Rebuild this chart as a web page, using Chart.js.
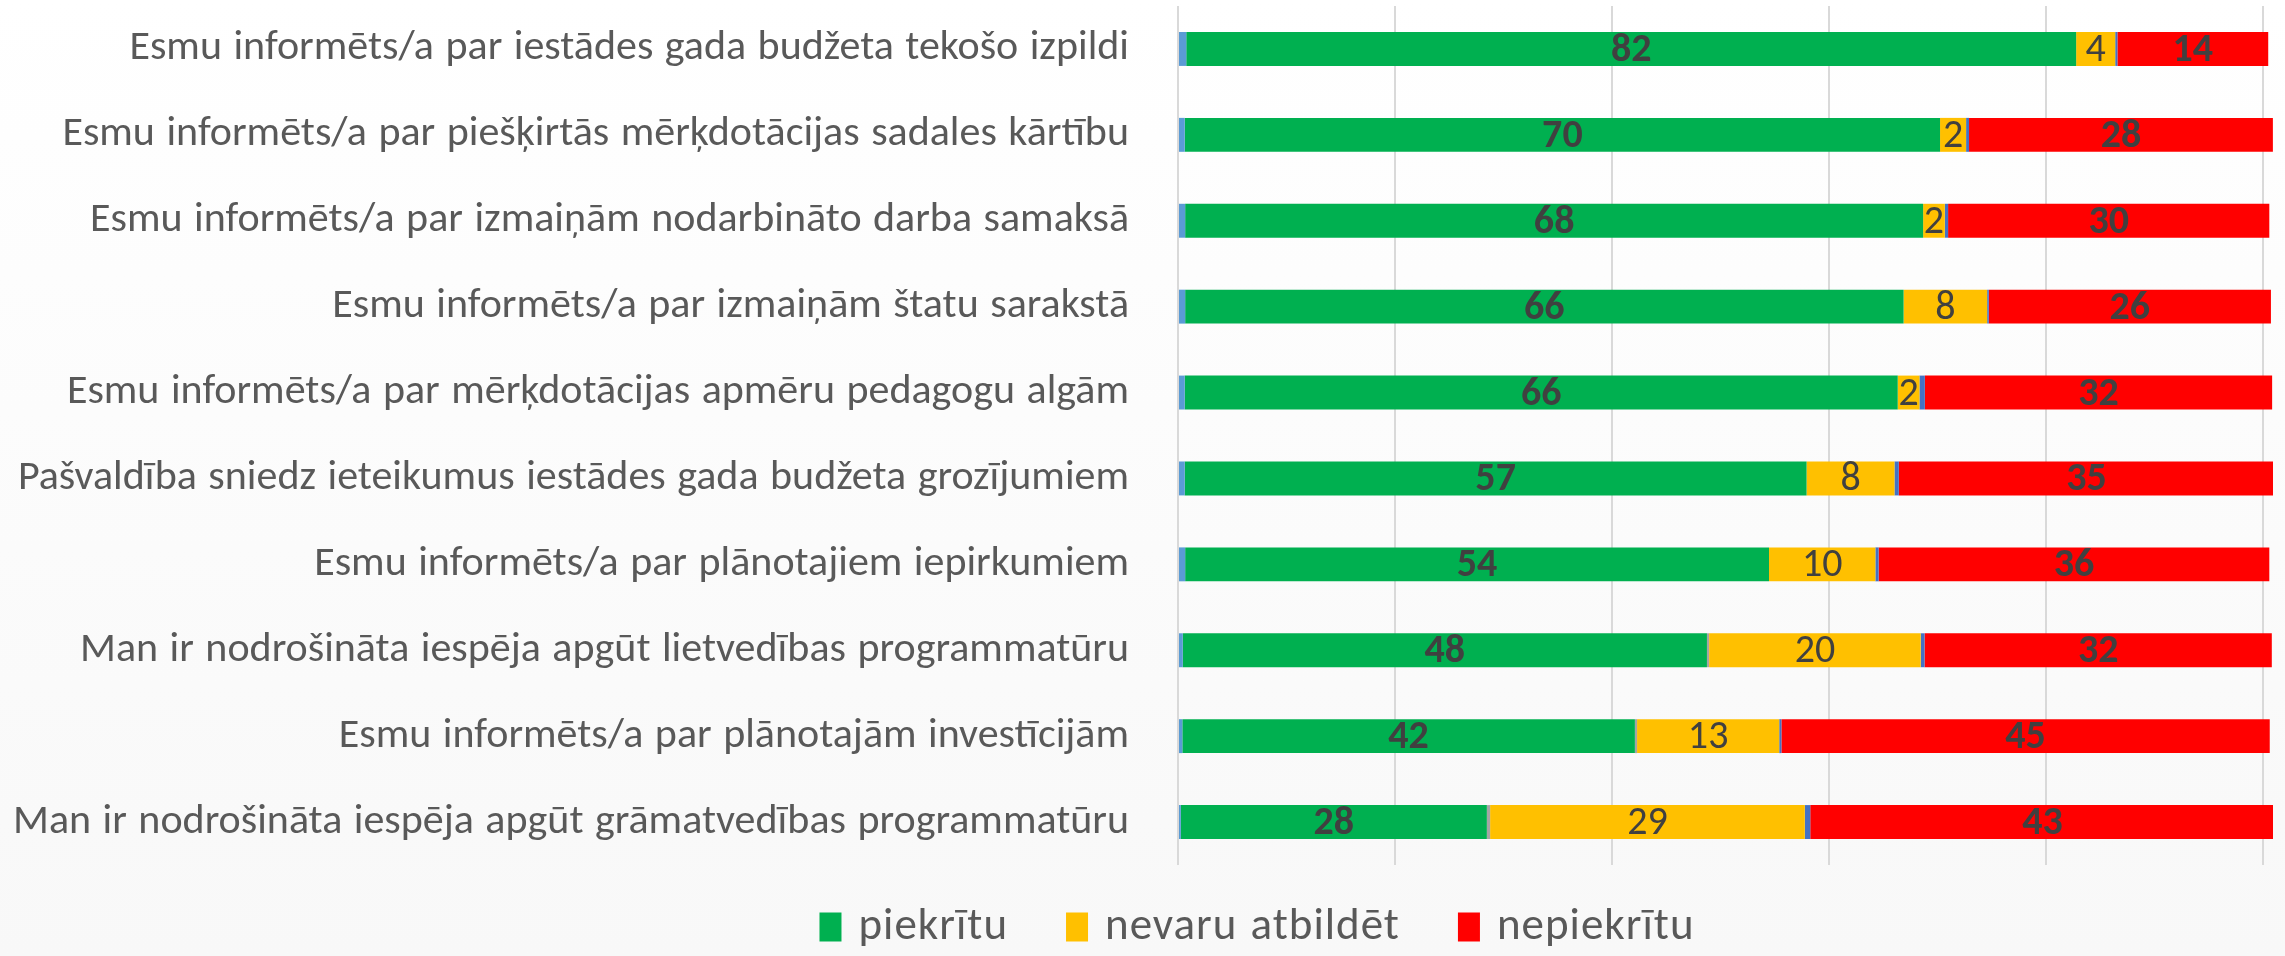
<!DOCTYPE html>
<html><head><meta charset="utf-8">
<script src="https://cdn.jsdelivr.net/npm/chart.js@4.4.1/dist/chart.umd.min.js"></script>
<style>html,body{margin:0;padding:0;background:#fbfbfb}#wrap{width:2285px;height:956px;position:relative}</style>
</head><body><div id="wrap"><canvas id="c" width="2285" height="956"></canvas></div>
<script>
const categories = [
  "Esmu informēts/a par iestādes gada budžeta tekošo izpildi",
  "Esmu informēts/a par piešķirtās mērķdotācijas sadales kārtību",
  "Esmu informēts/a par izmaiņām nodarbināto darba samaksā",
  "Esmu informēts/a par izmaiņām štatu sarakstā",
  "Esmu informēts/a par mērķdotācijas apmēru pedagogu algām",
  "Pašvaldība sniedz ieteikumus iestādes gada budžeta grozījumiem",
  "Esmu informēts/a par plānotajiem iepirkumiem",
  "Man ir nodrošināta iespēja apgūt lietvedības programmatūru",
  "Esmu informēts/a par plānotajām investīcijām",
  "Man ir nodrošināta iespēja apgūt grāmatvedības programmatūru"
];
const seriesNames = ["piekrītu", "nevaru atbildēt", "nepiekrītu"];
const piekritu       = [82.0, 69.6, 68.0, 66.2, 65.7, 57.3, 53.8, 48.3, 41.7, 28.2];
const nevaruAtbildet = [3.6, 2.4, 2.0, 7.7, 2.0, 8.1, 9.8, 19.5, 13.1, 29.0];
const nepiekritu     = [13.9, 28.0, 29.6, 26.0, 32.0, 34.6, 36.0, 32.0, 45.0, 42.8];
// thin unnamed segments visible in the picture
const startSliver    = [0.76, 0.62, 0.66, 0.66, 0.62, 0.62, 0.66, 0.44, 0.40, 0.26];
const midSliver      = [0, 0, 0, 0, 0, 0, 0, 0.2, 0.2, 0.3];
const endSliver      = [0.2, 0.27, 0.3, 0.15, 0.5, 0.4, 0.3, 0.35, 0.2, 0.5];
const xTicks = [0, 20, 40, 60, 80, 100];

const FONT = "Carlito, 'Liberation Sans Narrow', 'Open Sans', sans-serif";
const PAD_LEFT = 8;

const bgPlugin = {
  id: 'bg',
  beforeDraw(chart) {
    const {ctx, width, height} = chart;
    const g = ctx.createLinearGradient(0, 0, 0, height);
    g.addColorStop(0, '#ffffff');
    g.addColorStop(1, '#f8f8f8');
    ctx.save(); ctx.fillStyle = g; ctx.fillRect(0, 0, width, height); ctx.restore();
    ctx.wordSpacing = '2px';
  }
};

const labelPlugin = {
  id: 'barLabels',
  afterDatasetsDraw(chart) {
    const ctx = chart.ctx;
    ctx.save();
    ctx.wordSpacing = '0px';
    chart.data.datasets.forEach((ds, di) => {
      if (!ds.showLabel) return;
      const meta = chart.getDatasetMeta(di);
      meta.data.forEach((bar, i) => {
        const v = ds.data[i];
        const cx = (bar.x + bar.base) / 2;
        ctx.font = (ds.labelBold ? 'bold ' : '') + '40px ' + FONT;
        ctx.fillStyle = '#404040';
        ctx.textAlign = 'center';
        ctx.textBaseline = 'middle';
        ctx.fillText(String(Math.round(v)), cx, bar.y + 2);
      });
    });
    ctx.restore();
  }
};

// legend drawn on the canvas below the plot, from the named datasets
const legendPlugin = {
  id: 'bottomLegend',
  afterDraw(chart) {
    const ctx = chart.ctx;
    ctx.save();
    ctx.font = '45px ' + FONT;
    ctx.letterSpacing = '1px';
    ctx.wordSpacing = '2px';
    ctx.textBaseline = 'middle';
    ctx.textAlign = 'left';
    const items = chart.data.datasets.filter(d => seriesNames.includes(d.label));
    const boxW = 22, boxH = 29, gapBT = 17, gapItem = 58;
    const widths = items.map(d => ctx.measureText(d.label).width);
    const total = widths.reduce((a, w) => a + boxW + gapBT + w, 0) + gapItem * (items.length - 1);
    let x = 1257 - total / 2;
    const cy = 927;
    items.forEach((d, i) => {
      ctx.fillStyle = d.backgroundColor;
      ctx.fillRect(x, cy - boxH / 2, boxW, boxH);
      ctx.fillStyle = '#595959';
      ctx.fillText(d.label, x + boxW + gapBT, cy + 1);
      x += boxW + gapBT + widths[i] + gapItem;
    });
    ctx.restore();
  }
};

const chart = new Chart(document.getElementById('c'), {
  type: 'bar',
  data: {
    labels: categories,
    datasets: [
      {label: 'a', data: startSliver, backgroundColor: '#5b9bd5'},
      {label: seriesNames[0], data: piekritu, backgroundColor: '#00b050', showLabel: true, labelBold: true},
      {label: 'b', data: midSliver, backgroundColor: '#a5a5a5'},
      {label: seriesNames[1], data: nevaruAtbildet, backgroundColor: '#ffc000', showLabel: true, labelBold: false},
      {label: 'c', data: endSliver, backgroundColor: '#4472c4'},
      {label: seriesNames[2], data: nepiekritu, backgroundColor: '#ff0000', showLabel: true, labelBold: true}
    ]
  },
  options: {
    indexAxis: 'y',
    responsive: false,
    animation: false,
    devicePixelRatio: 1,
    datasets: {bar: {categoryPercentage: 1, barPercentage: 0.395, borderWidth: 0}},
    layout: {padding: {left: PAD_LEFT, right: 12, top: 6, bottom: 91}},
    scales: {
      x: {
        stacked: true, min: 0, max: 100.9,
        afterBuildTicks(scale) { scale.ticks = xTicks.map(v => ({value: v})); },
        ticks: {display: false},
        grid: {color: '#d9d9d9', lineWidth: 2, drawTicks: false},
        border: {display: false},
        afterFit(scale) { scale.height = 0; }
      },
      y: {
        stacked: true,
        grid: {display: false},
        border: {display: false},
        ticks: {color: '#595959', padding: 41, font: {family: FONT, size: 42}},
        afterFit(scale) {
          scale.width = 1178 - PAD_LEFT;
          scale.paddingTop = 0; scale.paddingBottom = 0;
        }
      }
    },
    plugins: {
      tooltip: {enabled: false},
      legend: {display: false}
    }
  },
  plugins: [bgPlugin, labelPlugin, legendPlugin]
});
</script></body></html>
